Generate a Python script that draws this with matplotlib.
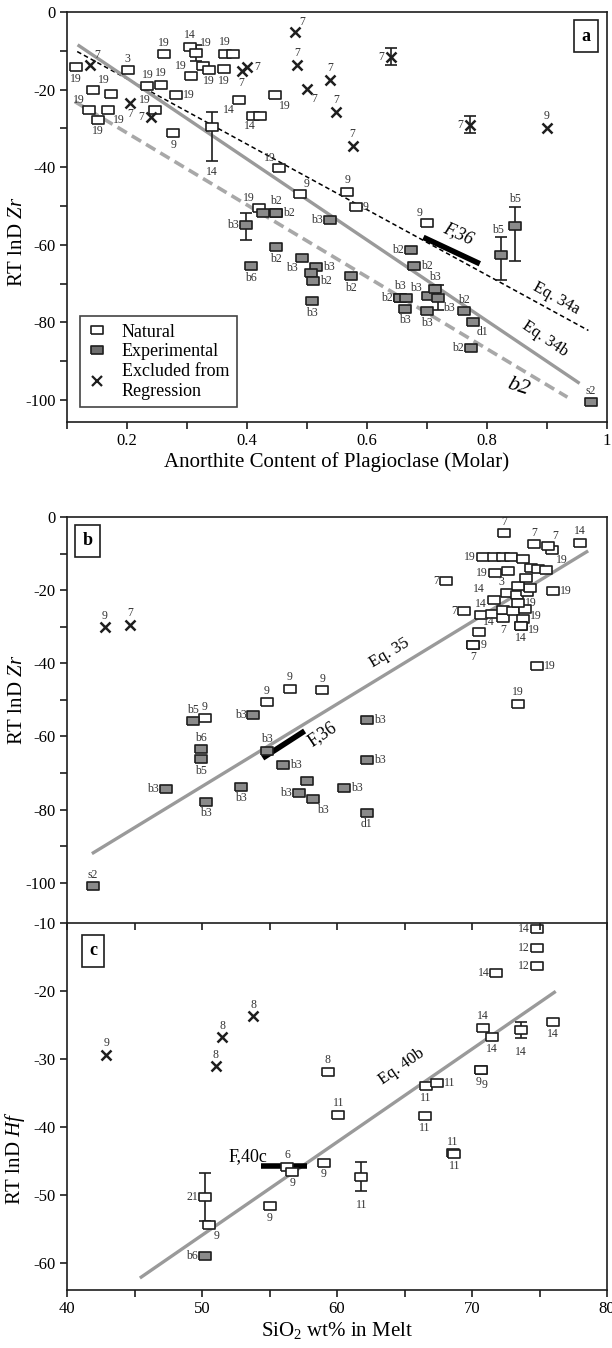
import matplotlib
matplotlib.use('Agg')
import matplotlib.pyplot as plt
from matplotlib.ticker import MultipleLocator, FixedLocator, FuncFormatter
from matplotlib.lines import Line2D

plt.rcParams['font.family'] = ['Liberation Serif', 'DejaVu Serif']
plt.rcParams['mathtext.fontset'] = 'custom'
plt.rcParams['mathtext.rm'] = 'Liberation Serif'
plt.rcParams['mathtext.it'] = 'Liberation Serif:italic'
plt.rcParams['axes.unicode_minus'] = False

# ---------------- panel a : anorthite content vs RT lnD Zr ----------------
a_nat_x = [0.115, 0.144, 0.174, 0.137, 0.169, 0.151, 0.201, 0.234, 0.256, 0.247, 0.282, 0.277,
           0.262, 0.305, 0.315, 0.307, 0.326, 0.337, 0.363, 0.377, 0.362, 0.386, 0.41, 0.422,
           0.447, 0.341, 0.454, 0.488, 0.42, 0.567, 0.581, 0.70]
a_nat_y = [-14.3, -20.1, -21.1, -25.2, -25.2, -27.8, -15.0, -19.2, -18.8, -25.2, -21.4, -31.3,
           -10.9, -8.9, -10.6, -16.6, -14.0, -14.9, -10.8, -10.8, -14.7, -22.7, -26.7, -26.7,
           -21.5, -29.6, -40.2, -47.0, -50.6, -46.4, -50.2, -54.4]
a_nat_lab = ['19', '19', '', '19', '19', '19', '3', '19', '19', '19', '19', '9',
             '19', '14', '19', '19', '', '19', '19', '', '19', '14', '', '14',
             '19', '14', '19', '9', '19', '9', '9', '9']
a_nat_pos = ['b', 'ar', '', 'al', 'br', 'b', 'a', 'a', 'a', 'al', 'r', 'b',
             'a', 'a', 'ar', 'al', '', 'b', 'a', '', 'b', 'bl', '', 'bl',
             'br', (0, -28, 'center', 'top'), 'al', 'ar', 'al', 'a', 'r', 'al']
a_nat_ex = [0.315, 0.341]
a_nat_ey = [-10.6, -29.6]
a_nat_elo = [2.0, 8.7]
a_nat_ehi = [2.0, 3.7]

a_exp_x = [0.426, 0.448, 0.448, 0.398, 0.538, 0.448, 0.407, 0.491, 0.515, 0.506, 0.51, 0.508,
           0.574, 0.673, 0.678, 0.655, 0.655, 0.665, 0.663, 0.70, 0.701, 0.713, 0.719, 0.762,
           0.776, 0.773, 0.823, 0.847, 0.973]
a_exp_y = [-51.8, -51.8, -51.8, -55.0, -53.7, -60.6, -65.6, -63.4, -65.7, -67.3, -69.4, -74.6,
           -68.1, -61.4, -65.6, -73.7, -73.7, -73.7, -76.5, -77.2, -73.2, -71.3, -73.7, -77.1,
           -79.9, -86.7, -62.7, -55.2, -100.6]
a_exp_lab = ['', 'b2', 'b2', 'b3', 'b3', 'b2', 'b6', 'b3', 'b3', '', 'b2', 'b3',
             'b2', 'b2', 'b2', 'b3', 'b2', 'b3', 'b3', 'b3', '', 'b3', 'b3', 'b2',
             'd1', 'b2', 'b5', 'b5', 's2']
a_exp_pos = ['', 'a', 'r', 'l', 'l', 'b', 'b', 'bl', 'r', '', 'r', 'b',
             'b', 'l', 'r', 'a', 'l', 'ar', 'b', 'b', '', 'a', 'br', 'a',
             'br', 'l', (-2, 14, 'center', 'bottom'), (0, 15, 'center', 'bottom'), 'a']
a_exp_ex = [0.398, 0.719, 0.823, 0.847]
a_exp_ey = [-55.0, -73.7, -62.7, -55.2]
a_exp_elo = [3.7, 3.1, 6.3, 8.9]
a_exp_ehi = [3.1, 3.2, 4.6, 4.8]

a_exc_x = [0.139, 0.205, 0.24, 0.391, 0.40, 0.48, 0.483, 0.50, 0.538, 0.549, 0.576, 0.64, 0.772, 0.90]
a_exc_y = [-13.6, -23.4, -27.1, -15.2, -14.3, -5.2, -13.6, -19.9, -17.5, -25.7, -34.5, -11.5, -29.1, -29.8]
a_exc_lab = ['7', '7', '7', '7', '7', '7', '7', '7', '7', '7', '7', '7', '7', '9']
a_exc_pos = ['ar', 'b', 'l', 'b', 'r', 'ar', 'a', 'br', 'a', 'a', 'a', 'l', 'l', 'a']
a_exc_ex = [0.64, 0.772]
a_exc_ey = [-11.5, -29.1]
a_exc_elo = [2.2, 2.2]
a_exc_ehi = [2.2, 2.2]

a_eq34a_x = [0.117, 0.969]
a_eq34a_y = [-10.2, -82.1]
a_eq34b_x = [0.12, 0.952]
a_eq34b_y = [-8.7, -95.5]
a_b2_x = [0.113, 0.934]
a_b2_y = [-23.1, -99.3]
a_f36_x = [0.694, 0.788]
a_f36_y = [-58.1, -64.9]

# ---------------- panel b : SiO2 vs RT lnD Zr ----------------
b_nat_x = [50.2, 54.8, 56.5, 58.9, 73.4, 74.8, 70.1, 70.1, 70.5, 69.4, 68.1, 70.7, 71.5, 72.3,
           72.3, 73.0, 73.9, 73.8, 73.6, 73.6, 71.6, 72.6, 73.3, 73.4, 74.1, 74.3, 73.4, 74.0,
           71.7, 72.7, 74.4, 74.9, 75.5, 76.0, 70.8, 71.6, 72.3, 72.9, 73.8, 75.9,
           72.4, 74.6, 75.6, 78.0]
b_nat_y = [-55.0, -50.7, -46.9, -47.4, -51.1, -40.6, -35.0, -35.0, -31.5, -25.8, -17.6, -26.8, -26.5, -27.7,
           -25.4, -25.6, -25.2, -27.9, -29.8, -29.8, -22.7, -20.9, -21.3, -23.4, -20.4, -19.3, -18.9, -16.8,
           -15.2, -14.9, -14.0, -14.2, -14.5, -20.2, -10.8, -10.8, -10.8, -10.8, -11.6, -9.0,
           -4.5, -7.5, -8.0, -7.0]
b_nat_lab = ['9', '9', '9', '9', '19', '19', '9', '7', '14', '7', '7', '', '', '7',
             '', '', '', '19', '19', '14', '14', '14', '', '19', '', '', '', '',
             '19', '3', '', '', '', '19', '19', '', '', '', '', '19',
             '7', '7', '7', '14']
b_nat_pos = ['a', 'a', 'a', 'a', 'a', 'r', 'r', 'b', 'ar', 'l', 'l', '', '', 'b',
             '', '', '', (5, 2, 'left', 'center'), (5, -3, 'left', 'center'), 'b',
             (-5, -3, 'right', 'center'), (-16, 3, 'right', 'center'), '', 'r', '', '', '', '',
             'l', 'bl', '', '', '', 'r', 'l', '', '', '', '', 'br',
             'a', 'a', 'ar', 'a']

b_exp_x = [49.3, 49.9, 49.9, 47.3, 50.3, 52.9, 53.8, 54.8, 56.0, 57.8, 57.2, 58.2, 60.5,
           62.2, 62.2, 62.2, 41.9]
b_exp_y = [-55.9, -63.5, -66.2, -74.3, -77.9, -73.7, -54.1, -63.9, -67.8, -72.1, -75.4, -77.2, -74.2,
           -55.6, -66.4, -80.8, -101.0]
b_exp_lab = ['b5', 'b6', 'b5', 'b3', 'b3', 'b3', 'b3', 'b3', 'b3', '', 'b3', 'b3', 'b3',
             'b3', 'b3', 'd1', 's2']
b_exp_pos = ['a', 'a', 'b', 'l', 'b', 'b', 'l', 'a', 'r', '', 'l', 'br', 'r',
             'r', 'r', 'b', 'a']

b_exc_x = [42.8, 44.7]
b_exc_y = [-30.2, -29.5]
b_exc_lab = ['9', '7']
b_exc_pos = ['a', 'a']

b_eq35_x = [41.95, 78.5]
b_eq35_y = [-91.8, -9.5]
b_f36_x = [54.5, 57.6]
b_f36_y = [-65.9, -58.5]

# ---------------- panel c : SiO2 vs RT lnD Hf ----------------
c_nat_x = [59.3, 60.1, 59.0, 56.3, 56.7, 50.2, 50.55, 55.0, 74.8, 74.8, 74.8, 71.8, 70.8, 71.5,
           73.6, 76.0, 70.7, 70.7, 66.6, 67.4, 66.5, 68.6, 68.7, 61.8]
c_nat_y = [-31.9, -38.2, -45.3, -45.9, -46.6, -50.3, -54.5, -51.7, -10.9, -13.7, -16.4, -17.4, -25.4, -26.8,
           -25.7, -24.6, -31.7, -31.7, -34.0, -33.5, -38.4, -43.9, -44.0, -47.3]
c_nat_lab = ['8', '11', '9', '6', '9', '21', '9', '9', '14', '12', '12', '14', '14', '14',
             '14', '14', '9', '9', '11', '11', '11', '11', '11', '11']
c_nat_pos = ['a', 'a', 'b', 'a', 'b', 'l', 'br', 'b', 'l', 'l', 'l', 'l', 'a', 'b',
             (0, -12, 'center', 'top'), 'b', (-2, -4, 'center', 'top'), (2.5, -6, 'center', 'top'),
             'b', 'r', 'b', 'a', 'b', (0, -16, 'center', 'top')]
c_nat_ex = [50.2, 73.6, 61.8]
c_nat_ey = [-50.3, -25.7, -47.3]
c_nat_elo = [3.5, 1.2, 2.1]
c_nat_ehi = [3.5, 1.2, 2.1]

c_exp_x = [50.2]
c_exp_y = [-59.0]
c_exp_lab = ['b6']
c_exp_pos = ['l']

c_exc_x = [42.9, 51.0, 51.5, 53.8]
c_exc_y = [-29.4, -31.1, -26.8, -23.7]
c_exc_lab = ['9', '8', '8', '8']
c_exc_pos = ['a', 'a', 'a', 'a']

c_eq40b_x = [45.5, 76.1]
c_eq40b_y = [-62.1, -20.2]
c_f40c_x = [54.4, 57.8]
c_f40c_y = [-45.8, -45.8]

# ---------------- drawing ----------------
RECT = [(-1.35, -1), (1.35, -1), (1.35, 1), (-1.35, 1), (-1.35, -1)]
POS = {'a': (0, 4, 'center', 'bottom'), 'b': (0, -4, 'center', 'top'),
       'l': (-5, 0, 'right', 'center'), 'r': (5, 0, 'left', 'center'),
       'al': (-3, 3, 'right', 'bottom'), 'ar': (3, 3, 'left', 'bottom'),
       'bl': (-3, -3, 'right', 'top'), 'br': (3, -3, 'left', 'top')}
EDGE = '#1e1e1e'
LAB = '#333333'


def points(ax, x, y, lab, pos, kind):
    if kind == 'nat':
        ax.plot(x, y, ls='none', marker=RECT, ms=8, mfc='white', mec=EDGE, mew=1.2, zorder=4)
    elif kind == 'exp':
        ax.plot(x, y, ls='none', marker=RECT, ms=8, mfc='#8a8a8a', mec=EDGE, mew=1.2, zorder=4)
    else:
        ax.plot(x, y, ls='none', marker='x', ms=7, mec=EDGE, mew=1.8, zorder=4)
    for xi, yi, t, p in zip(x, y, lab, pos):
        if not t:
            continue
        dx, dy, ha, va = POS[p] if isinstance(p, str) else p
        ax.annotate(t, (xi, yi), xytext=(dx, dy), textcoords='offset points',
                    ha=ha, va=va, fontsize=8.5, color=LAB, zorder=5)


def ebars(ax, x, y, lo, hi):
    ax.errorbar(x, y, yerr=[lo, hi], fmt='none', ecolor=EDGE, elinewidth=1.2,
                capsize=4, capthick=1.2, zorder=3)


def letter(ax, s, fx, fy):
    ax.text(fx, fy, s, transform=ax.transAxes, fontsize=13, fontweight='bold',
            ha='center', va='center', zorder=6,
            bbox=dict(boxstyle='square,pad=0.4', fc='white', ec=EDGE, lw=1.2))


def style(ax):
    for sp in ax.spines.values():
        sp.set_linewidth(1.2)
        sp.set_color(EDGE)
    ax.tick_params(which='both', direction='out', length=5, width=1.2, color=EDGE,
                   labelsize=12, pad=3)


fig = plt.figure(figsize=(6.12, 13.48), dpi=100)
W, H = 612.0, 1348.0
ax_a = fig.add_axes([67 / W, 1 - 422 / H, 540 / W, 410 / H])
ax_b = fig.add_axes([67 / W, 1 - 923 / H, 540 / W, 406 / H])
ax_c = fig.add_axes([67 / W, 1 - 1290 / H, 540 / W, 367 / H])
ax_c.patch.set_visible(False)
ax_b.set_zorder(1)
ax_b.patch.set_visible(False)

# panel a
ax = ax_a
ax.plot(a_eq34a_x, a_eq34a_y, color='black', lw=1.1, ls=(0, (3, 2)), zorder=2)
ax.plot(a_eq34b_x, a_eq34b_y, color='#9a9a9a', lw=2.4, zorder=2)
ax.plot(a_b2_x, a_b2_y, color='#a8a8a8', lw=2.6, ls=(0, (3, 1.6)), zorder=2)
ax.plot(a_f36_x, a_f36_y, color='black', lw=4, solid_capstyle='butt', zorder=3)
ebars(ax, a_nat_ex, a_nat_ey, a_nat_elo, a_nat_ehi)
ebars(ax, a_exp_ex, a_exp_ey, a_exp_elo, a_exp_ehi)
ebars(ax, a_exc_ex, a_exc_ey, a_exc_elo, a_exc_ehi)
points(ax, a_nat_x, a_nat_y, a_nat_lab, a_nat_pos, 'nat')
points(ax, a_exp_x, a_exp_y, a_exp_lab, a_exp_pos, 'exp')
points(ax, a_exc_x, a_exc_y, a_exc_lab, a_exc_pos, 'exc')
ax.text(0.752, -57.0, 'F,36', fontsize=13, style='italic', rotation=-24, ha='center', va='center')
ax.text(0.916, -73.9, 'Eq. 34a', fontsize=12, rotation=-29, ha='center', va='center')
ax.text(0.897, -84.2, 'Eq. 34b', fontsize=12, rotation=-34, ha='center', va='center')
ax.text(0.852, -96.7, 'b2', fontsize=16, style='italic', rotation=-18, ha='center', va='center')
ax.set_xlim(0.1, 1.0)
ax.set_ylim(-105.7, 0)
ax.xaxis.set_major_locator(MultipleLocator(0.2))
ax.xaxis.set_minor_locator(MultipleLocator(0.1))
ax.xaxis.set_major_formatter(FuncFormatter(lambda v, p: '%g' % round(v, 2)))
ax.yaxis.set_major_locator(MultipleLocator(20))
ax.yaxis.set_minor_locator(FixedLocator([-10, -30, -50, -70, -90]))
ax.yaxis.set_major_formatter(FuncFormatter(lambda v, p: '%d' % round(v)))
ax.set_xlabel('Anorthite Content of Plagioclase (Molar)', fontsize=15, labelpad=2)
ax.set_ylabel('RT lnD $\\mathit{Zr}$', fontsize=15)
ax.yaxis.set_label_coords(-0.074, 0.44)
style(ax)
letter(ax, 'a', 0.961, 0.941)
handles = [Line2D([], [], ls='none', marker=RECT, ms=8, mfc='white', mec=EDGE, mew=1.2),
           Line2D([], [], ls='none', marker=RECT, ms=8, mfc='#6e6e6e', mec=EDGE, mew=1.2),
           Line2D([], [], ls='none', marker='x', ms=7, mec=EDGE, mew=1.6)]
leg = ax.legend(handles, ['Natural', 'Experimental', 'Excluded from\nRegression'],
                loc='lower left', bbox_to_anchor=(0.008, 0.015), fontsize=13, frameon=True,
                fancybox=False, framealpha=1, edgecolor='#444444', handlelength=1.0,
                handletextpad=0.9, borderpad=0.4, labelspacing=0.15)
leg.get_frame().set_linewidth(1.2)

# panel b
ax = ax_b
ax.plot(b_eq35_x, b_eq35_y, color='#9a9a9a', lw=2.4, zorder=2)
ax.plot(b_f36_x, b_f36_y, color='black', lw=4, solid_capstyle='butt', zorder=3)
points(ax, b_nat_x, b_nat_y, b_nat_lab, b_nat_pos, 'nat')
points(ax, b_exp_x, b_exp_y, b_exp_lab, b_exp_pos, 'exp')
points(ax, b_exc_x, b_exc_y, b_exc_lab, b_exc_pos, 'exc')
ax.text(63.9, -37.2, 'Eq. 35', fontsize=12, rotation=31, ha='center', va='center')
ax.text(58.9, -59.4, 'F,36', fontsize=13, rotation=34, ha='center', va='center')
ax.set_xlim(40, 80)
ax.set_ylim(-111, 0)
ax.xaxis.set_major_locator(MultipleLocator(5))
ax.tick_params(axis='x', labelbottom=False)
ax.yaxis.set_major_locator(MultipleLocator(20))
ax.yaxis.set_minor_locator(FixedLocator([-10, -30, -50, -70, -90]))
ax.yaxis.set_major_formatter(FuncFormatter(lambda v, p: '%d' % round(v)))
ax.set_ylabel('RT lnD $\\mathit{Zr}$', fontsize=15)
ax.yaxis.set_label_coords(-0.074, 0.55)
style(ax)
letter(ax, 'b', 0.038, 0.941)

# panel c
ax = ax_c
ax.plot(c_eq40b_x, c_eq40b_y, color='#9a9a9a', lw=2.4, zorder=2)
ax.plot(c_f40c_x, c_f40c_y, color='black', lw=4, solid_capstyle='butt', zorder=3)
ebars(ax, c_nat_ex, c_nat_ey, c_nat_elo, c_nat_ehi)
points(ax, c_nat_x, c_nat_y, c_nat_lab, c_nat_pos, 'nat')
points(ax, c_exp_x, c_exp_y, c_exp_lab, c_exp_pos, 'exp')
points(ax, c_exc_x, c_exc_y, c_exc_lab, c_exc_pos, 'exc')
ax.text(64.8, -31.1, 'Eq. 40b', fontsize=12, rotation=35, ha='center', va='center')
ax.text(53.4, -44.4, 'F,40c', fontsize=13, ha='center', va='center')
ax.set_xlim(40, 80)
ax.set_ylim(-64, -10)
ax.xaxis.set_major_locator(MultipleLocator(10))
ax.xaxis.set_minor_locator(MultipleLocator(5))
ax.yaxis.set_major_locator(MultipleLocator(10))
ax.yaxis.set_major_formatter(FuncFormatter(lambda v, p: '%d' % round(v)))
ax.set_xlabel('SiO$_2$ wt% in Melt', fontsize=15, labelpad=2)
ax.set_ylabel('RT lnD $\\mathit{Hf}$', fontsize=15)
ax.yaxis.set_label_coords(-0.074, 0.36)
style(ax)
ax.spines['top'].set_visible(False)
letter(ax, 'c', 0.048, 0.924)

fig.savefig('out.png', dpi=100)
